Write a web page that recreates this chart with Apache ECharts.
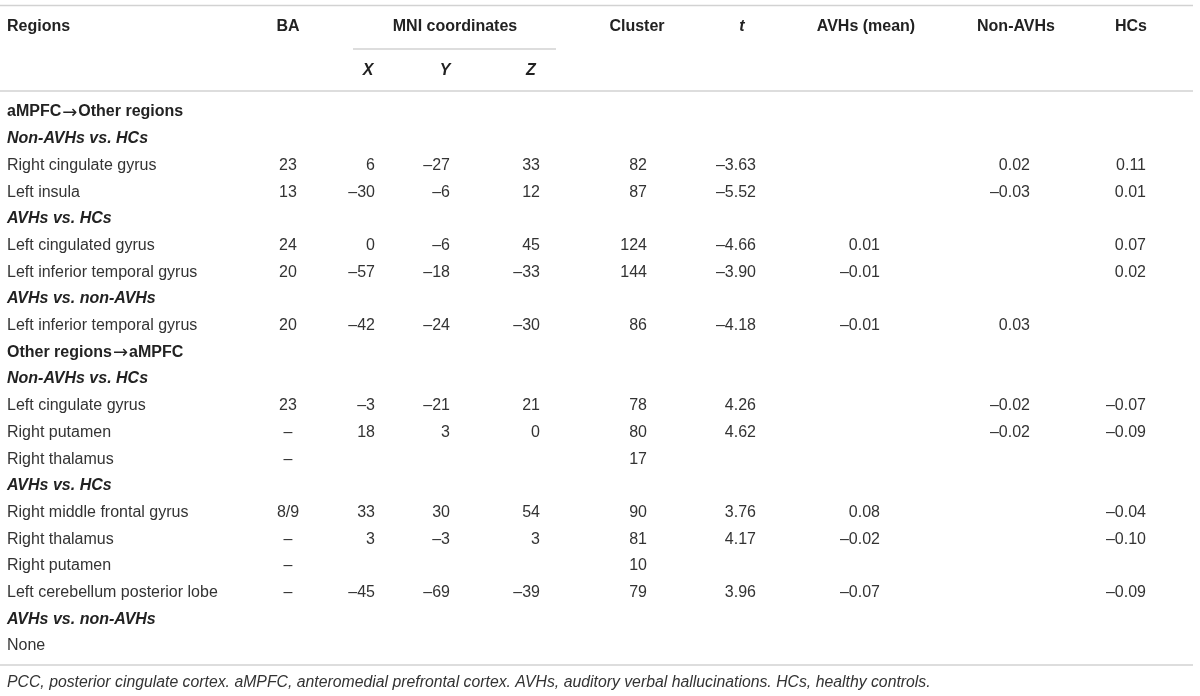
<!DOCTYPE html>
<html>
<head>
<meta charset="utf-8">
<title>Effective connectivity table</title>
<script src="https://cdn.jsdelivr.net/npm/echarts@6/dist/echarts.min.js"></script>
<style>
html, body { margin: 0; padding: 0; background: #fff; }
#main { width: 1200px; height: 696px; }
</style>
</head>
<body>
<div id="main"></div>
<script>
// header texts
var headLabels = ['Regions', 'BA', 'MNI coordinates', 'Cluster', 't', 'AVHs (mean)', 'Non-AVHs', 'HCs'];
var mniLabels = ['X', 'Y', 'Z'];

// body rows: s = section, g = comparison group, r = region
var rowKinds = ['s', 'g', 'r', 'r', 'g', 'r', 'r', 'g', 'r', 's', 'g', 'r', 'r', 'r', 'g', 'r', 'r', 'r', 'r', 'g', 'r'];
var rowLabels = [
    'aMPFC\u2192Other regions', 'Non-AVHs vs. HCs', 'Right cingulate gyrus', 'Left insula',
    'AVHs vs. HCs', 'Left cingulated gyrus', 'Left inferior temporal gyrus',
    'AVHs vs. non-AVHs', 'Left inferior temporal gyrus',
    'Other regions\u2192aMPFC', 'Non-AVHs vs. HCs', 'Left cingulate gyrus', 'Right putamen', 'Right thalamus',
    'AVHs vs. HCs', 'Right middle frontal gyrus', 'Right thalamus', 'Right putamen', 'Left cerebellum posterior lobe',
    'AVHs vs. non-AVHs', 'None'
];
var baValues    = [null, null, '23', '13', null, '24', '20', null, '20', null, null, '23', '\u2013', '\u2013', null, '8/9', '\u2013', '\u2013', '\u2013', null, null];
var mniX        = [null, null, 6, -30, null, 0, -57, null, -42, null, null, -3, 18, null, null, 33, 3, null, -45, null, null];
var mniY        = [null, null, -27, -6, null, -6, -18, null, -24, null, null, -21, 3, null, null, 30, -3, null, -69, null, null];
var mniZ        = [null, null, 33, 12, null, 45, -33, null, -30, null, null, 21, 0, null, null, 54, 3, null, -39, null, null];
var clusterSize = [null, null, 82, 87, null, 124, 144, null, 86, null, null, 78, 80, 17, null, 90, 81, 10, 79, null, null];
var tValues     = [null, null, -3.63, -5.52, null, -4.66, -3.90, null, -4.18, null, null, 4.26, 4.62, null, null, 3.76, 4.17, null, 3.96, null, null];
var avhMean     = [null, null, null, null, null, 0.01, -0.01, null, -0.01, null, null, null, null, null, null, 0.08, -0.02, null, -0.07, null, null];
var nonAvhMean  = [null, null, 0.02, -0.03, null, null, null, null, 0.03, null, null, -0.02, -0.02, null, null, null, null, null, null, null, null];
var hcMean      = [null, null, 0.11, 0.01, null, 0.07, 0.02, null, null, null, null, -0.07, -0.09, null, null, -0.04, -0.10, null, -0.09, null, null];
var footNote = 'PCC, posterior cingulate cortex. aMPFC, anteromedial prefrontal cortex. AVHs, auditory verbal hallucinations. HCs, healthy controls.';

// layout (pixels of the 1200x696 page)
var fontName = '"Liberation Sans", Arial, Helvetica, sans-serif';
var fontSize = 16;
var headY = [27, 71];
var headX = [7, 288, 455, 637, 742, 866, 1016, 1131];
var mniHeadX = [368, 445, 531];
var rowTop = 112, rowStep = 26.7;
var footY = 683;
// anchor and alignment of each body column
var colX = [7, 288, 375, 450, 540, 647, 756, 880, 1030, 1146];
var colAlign = ['left', 'center', 'right', 'right', 'right', 'right', 'right', 'right', 'right', 'right'];
// horizontal rules: [x1, x2, y]
var rules = [[0, 1193, 5.5], [353, 556, 49], [0, 1193, 91], [0, 1193, 665]];

function fmt(v, dec) {
    if (v === null || v === undefined) return '';
    if (typeof v === 'string') return v;
    return (v < 0 ? '\u2013' : '') + Math.abs(v).toFixed(dec);
}

var cells = [];
function addCell(x, y, text, align, weight, style, color, size) {
    if (!text) return;
    cells.push({x: x, y: y, text: text, align: align, weight: weight || 'normal', style: style || 'normal',
        color: color || '#333', size: size || fontSize});
}

// header
for (var h = 0; h < headLabels.length; h++) {
    addCell(headX[h], headY[0], headLabels[h], h === 0 ? 'left' : 'center', 'bold', headLabels[h] === 't' ? 'italic' : 'normal', '#222');
}
for (var m = 0; m < mniLabels.length; m++) {
    addCell(mniHeadX[m], headY[1], mniLabels[m], 'center', 'bold', 'italic', '#222');
}

// body
for (var i = 0; i < rowLabels.length; i++) {
    var y = rowTop + i * rowStep;
    if (rowKinds[i] === 's') { addCell(colX[0], y, rowLabels[i], 'left', 'bold', 'normal', '#222'); continue; }
    if (rowKinds[i] === 'g') { addCell(colX[0], y, rowLabels[i], 'left', 'bold', 'italic', '#222'); continue; }
    var vals = [rowLabels[i], baValues[i], fmt(mniX[i], 0), fmt(mniY[i], 0), fmt(mniZ[i], 0), fmt(clusterSize[i], 0),
        fmt(tValues[i], 2), fmt(avhMean[i], 2), fmt(nonAvhMean[i], 2), fmt(hcMean[i], 2)];
    for (var c = 0; c < vals.length; c++) {
        addCell(colX[c], y, vals[c], colAlign[c]);
    }
}
addCell(7, footY, footNote, 'left', 'normal', 'italic', '#333', 15.8);

var chart = echarts.init(document.getElementById('main'));
chart.setOption({
    animation: false,
    grid: {left: 0, right: 0, top: 0, bottom: 0},
    xAxis: {type: 'value', min: 0, max: 1200, show: false},
    yAxis: {type: 'value', min: 0, max: 696, inverse: true, show: false},
    series: [
        {
            type: 'custom',
            data: rules.map(function (r) { return [r[0], r[2], r[1]]; }),
            renderItem: function (params, api) {
                var a = api.coord([api.value(0), api.value(1)]);
                var b = api.coord([api.value(2), api.value(1)]);
                return {type: 'line', shape: {x1: a[0], y1: a[1], x2: b[0], y2: b[1]},
                    style: {stroke: '#d2d2d2', lineWidth: 1.6}};
            }
        },
        {
            type: 'custom',
            data: cells.map(function (c) { return [c.x, c.y]; }),
            renderItem: function (params, api) {
                var c = cells[params.dataIndex];
                var p = api.coord([api.value(0), api.value(1)]);
                // the arrow glyph is taken from DejaVu, a long thin one like the original
                var txt = c.text.replace('\u2192', '{arr|\u2192}');
                return {type: 'text', x: p[0], y: p[1], style: {
                    text: txt, align: c.align, verticalAlign: 'middle',
                    fontFamily: fontName, fontSize: c.size, fontWeight: c.weight, fontStyle: c.style, fill: c.color,
                    rich: {arr: {fontFamily: '"DejaVu Sans"', fontSize: 18, fontWeight: 'normal', fill: c.color, padding: [3, 1, 0, 1]}}
                }};
            }
        }
    ]
});
</script>
</body>
</html>
